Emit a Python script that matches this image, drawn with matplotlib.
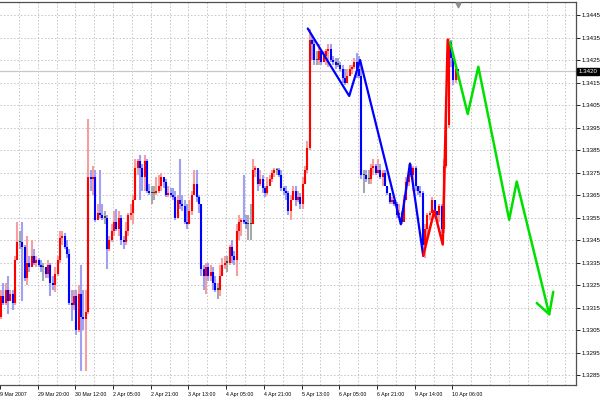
import matplotlib
matplotlib.use("Agg")
import matplotlib.pyplot as plt
import numpy as np

# ---------------- data (prices in pips, /10000) ----------------
first_open = 13311
close_pips = [13320,13317,13323,13318,13321,13317,13336,13344,13344,13342,
13328,13335,13333,13338,13335,13336,13334,13333,13333,13330,
13334,13326,13325,13330,13336,13346,13347,13342,13339,13317,
13316,13320,13305,13321,13311,13310,13313,13373,13372,13373,
13354,13357,13356,13355,13355,13341,13345,13349,13353,13350,
13355,13345,13344,13349,13356,13357,13363,13377,13380,13377,
13373,13380,13367,13366,13366,13366,13367,13369,13373,13371,
13365,13366,13365,13364,13355,13363,13361,13360,13353,13352,
13358,13365,13370,13364,13361,13332,13329,13333,13329,13331,
13326,13323,13323,13329,13334,13335,13335,13342,13338,13336,
13349,13353,13354,13353,13352,13352,13352,13376,13377,13370,
13372,13368,13366,13369,13372,13375,13376,13376,13374,13368,
13367,13366,13358,13363,13367,13363,13364,13361,13370,13376,
13386,13434,13432,13425,13425,13429,13424,13427,13429,13430,
13425,13424,13423,13423,13421,13417,13415,13418,13421,13422,
13424,13421,13418,13374,13374,13372,13372,13377,13378,13375,
13376,13373,13375,13369,13366,13362,13363,13361,13356,13357,
13353,13363,13371,13377,13374,13377,13369,13367,13366,13343,
13350,13356,13357,13363,13358,13356,13360,13350,13378,13396,
13433,13426,13416,13421,13420]
high_pips = [13323,13326,13326,13329,13323,13323,13338,13353,13349,13353,
13343,13347,13338,13345,13341,13338,13337,13336,13335,13333,
13336,13335,13329,13333,13338,13349,13349,13348,13345,13341,
13323,13323,13323,13325,13334,13323,13323,13399,13376,13378,
13376,13361,13376,13361,13358,13356,13347,13352,13358,13359,
13358,13356,13347,13353,13357,13361,13365,13381,13381,13383,
13379,13383,13381,13370,13369,13369,13373,13374,13375,13373,
13372,13369,13368,13368,13367,13365,13381,13365,13363,13361,
13363,13367,13376,13376,13365,13361,13334,13335,13335,13334,
13333,13329,13326,13334,13337,13338,13338,13343,13345,13340,
13352,13356,13355,13374,13356,13356,13361,13381,13378,13377,
13376,13374,13369,13373,13374,13376,13377,13377,13377,13376,
13369,13369,13367,13365,13369,13369,13367,13366,13373,13378,
13389,13439,13436,13434,13429,13432,13429,13429,13430,13432,
13432,13427,13426,13426,13424,13423,13421,13421,13423,13423,
13426,13428,13427,13423,13376,13376,13376,13379,13381,13379,
13381,13379,13376,13376,13369,13366,13364,13363,13362,13361,
13358,13365,13373,13379,13379,13378,13378,13369,13369,13367,
13352,13357,13358,13364,13363,13358,13361,13361,13381,13399,
13435,13434,13427,13423,13421]
low_pips = [13310,13316,13316,13312,13318,13314,13316,13336,13341,13318,
13327,13325,13331,13334,13334,13333,13333,13331,13327,13328,
13328,13320,13323,13322,13329,13335,13343,13341,13337,13316,
13309,13314,13303,13304,13287,13305,13287,13312,13367,13365,
13353,13354,13355,13354,13352,13332,13340,13344,13347,13349,
13347,13343,13341,13343,13347,13354,13352,13363,13374,13363,
13367,13367,13366,13365,13361,13363,13365,13366,13367,13368,
13364,13364,13364,13363,13354,13356,13359,13358,13352,13350,
13354,13356,13365,13362,13357,13329,13323,13321,13327,13327,
13323,13322,13319,13320,13329,13332,13331,13334,13335,13334,
13329,13345,13347,13352,13350,13345,13345,13354,13373,13367,
13369,13366,13364,13365,13369,13371,13373,13374,13373,13367,
13365,13363,13356,13354,13364,13360,13362,13359,13359,13373,
13375,13385,13425,13423,13423,13423,13423,13426,13423,13422,
13424,13423,13421,13422,13420,13415,13414,13416,13418,13419,
13421,13417,13417,13372,13366,13371,13370,13370,13374,13374,
13375,13372,13369,13369,13365,13361,13361,13360,13355,13356,
13352,13355,13364,13369,13373,13367,13367,13365,13364,13339,
13337,13345,13354,13357,13355,13353,13353,13348,13348,13377,
13395,13422,13414,13415,13416]

# zigzag lines (bar index, price)
blue_bar = [130.2, 147.8, 152.4, 169.7, 173.6, 179.2]
blue_price = [1.3439, 1.3409, 1.3425, 1.3352, 1.3379, 1.3338]
red_bar = [179.2, 183.9, 187.5, 189.6]
red_price = [1.3338, 1.3358, 1.3343, 1.3434]
green_bar = [190.6, 198.1, 202.6, 215.7, 218.9, 232.7, 234.4]
green_price = [1.3433, 1.3401, 1.3422, 1.3354, 1.3371, 1.3312, 1.3322]
green_tail_bar = [227.4, 232.7]
green_tail_price = [1.3317, 1.3312]

current_price = 1.3420
y_ticks = [1.3285 + 0.001 * k for k in range(17)]
x_labels = ["9 Mar 2007", "29 Mar 20:00", "30 Mar 12:00", "2 Apr 05:00", "2 Apr 21:00",
            "3 Apr 13:00", "4 Apr 05:00", "4 Apr 21:00", "5 Apr 13:00", "6 Apr 05:00",
            "6 Apr 21:00", "9 Apr 14:00", "10 Apr 06:00"]
bars_per_label = 16
bars_per_grid = 8

# ---------------- figure ----------------
W, H = 600, 400
fig = plt.figure(figsize=(6, 4), dpi=100)
fig.patch.set_facecolor("white")
ax_left_px, ax_right_px, ax_top_px, ax_bot_px = 0, 576, 2, 385
ax = fig.add_axes([ax_left_px / W, 1 - ax_bot_px / H,
                   (ax_right_px - ax_left_px) / W, (ax_bot_px - ax_top_px) / H])

bar_px = 2.356
x0_px = 1.0
ax.set_xlim(-x0_px / bar_px, (ax_right_px - x0_px) / bar_px)
ax.set_ylim(1.328056, 1.345078)

c = np.array(close_pips) / 1e4
o = np.concatenate([[first_open / 1e4], c[:-1]])
h = np.maximum(np.array(high_pips) / 1e4, np.maximum(o, c))
l = np.minimum(np.array(low_pips) / 1e4, np.minimum(o, c))
x = np.arange(len(c))

up = c > o
dn = c < o
body_col = np.where(up, "#ff0000", np.where(dn, "#0000ff", "#404040"))
wick_col = np.where(up, "#f4a0a0", np.where(dn, "#a0a0f4", "#a8a8a8"))

# grid
grid_kw = dict(color="#c4c4c4", lw=0.7, linestyle=(0, (1.5, 2)), zorder=0)
for yv in y_ticks:
    ax.axhline(yv, **grid_kw)
grid_pos = [(bars_per_grid * k * bar_px - x0_px) / bar_px for k in range(1, 31)]
grid_pos = [g for g in grid_pos if g < ax.get_xlim()[1]]
for gx in grid_pos:
    ax.axvline(gx, **grid_kw)

# current price line
ax.axhline(current_price, color="#c8c8c8", lw=0.9, zorder=1)

lw = 1.5
ax.vlines(x, l, h, colors=wick_col, lw=lw, zorder=2)
minh = 0.00005
bot = np.minimum(o, c)
top = np.maximum(np.maximum(o, c), bot + minh)
ax.vlines(x, bot, top, colors=body_col, lw=lw, zorder=3)

ax.plot(blue_bar, blue_price, color="#0000ff", lw=1.6, zorder=4, solid_capstyle="round")
ax.plot(red_bar, red_price, color="#ff0000", lw=1.8, zorder=4, solid_capstyle="round")
ax.plot(green_bar, green_price, color="#00e000", lw=1.8, zorder=4, solid_capstyle="round")
ax.plot(green_tail_bar, green_tail_price, color="#00e000", lw=1.8, zorder=4, solid_capstyle="round")

# small marker at top
ax.plot([194], [1.34496], marker="v", color="#909090", ms=3.5, clip_on=False, zorder=5)

# spines
for s in ["top", "right", "bottom"]:
    ax.spines[s].set_color("#505050")
    ax.spines[s].set_linewidth(0.9)
ax.spines["left"].set_visible(False)

font = ["Liberation Sans", "DejaVu Sans"]

# y axis right
ax.yaxis.tick_right()
ax.set_yticks(y_ticks)
ax.set_yticklabels(["%.4f" % v for v in y_ticks], fontsize=4.4, family=font, color="#000000")
ax.tick_params(axis="y", length=3, width=0.6, pad=1.0, colors="#000000")

# x axis
label_pos = [(bars_per_label * k * bar_px - x0_px) / bar_px for k in range(len(x_labels))]
ax.set_xticks(label_pos)
ax.set_xticklabels(x_labels, fontsize=3.8, family=font, color="#000000")
for t in ax.get_xticklabels():
    t.set_horizontalalignment("left")
ax.tick_params(axis="x", length=3, width=0.6, pad=2.0, colors="#000000")

# current price box
ax.text(1.0 + 2.5 / 576, current_price, "%.4f" % current_price, transform=ax.get_yaxis_transform(),
        fontsize=4.4, family=font, color="white", va="center", ha="left",
        bbox=dict(boxstyle="square,pad=0.2", fc="black", ec="black"), zorder=6, clip_on=False)

fig.savefig("out.png", dpi=100, facecolor="white")
